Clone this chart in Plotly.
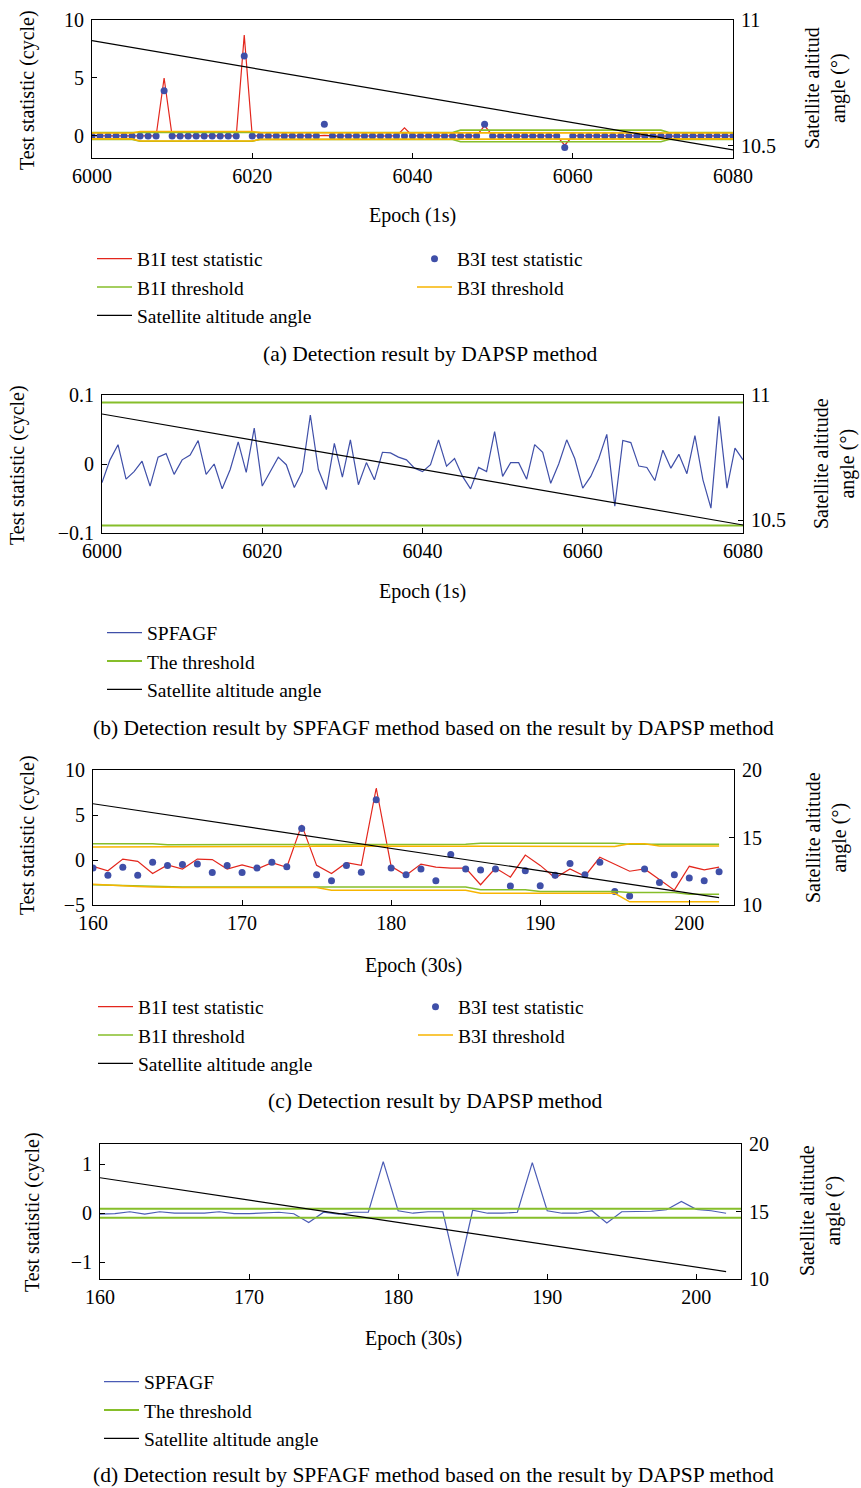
import plotly.graph_objects as go

W, H = 861, 1488
FONT = "Liberation Serif"
FS = 20
LFS = 19.5

RED = "#E3261C"
BLUE = "#3F4FA8"
GREEN = "#86BE2A"
ORANGE = "#F7B500"
BLACK = "#000000"

# ---------------- Panel (a) ----------------
epoch_a = list(range(6000, 6081))
b1i_stat_a = [0.02, 0.0, -0.03, 0.01, 0.0, 0.02, -0.02, 0.01, 0.0, 5.0,
              0.0, 0.02, -0.01, 0.0, 0.01, -0.02, 0.0, 0.01, 0.0, 8.7,
              0.0, 0.02, -0.01, 0.0, 0.01, 0.0, -0.02, 0.01, 0.0, 0.05,
              0.0, -0.01, 0.02, 0.0, 0.0, 0.01, -0.02, 0.0, 0.0, 0.7,
              0.0, 0.01, 0.0, -0.02, 0.0, 0.01, 0.0, 0.02, 0.0, 0.9,
              0.0, -0.01, 0.0, 0.02, 0.0, 0.0, -0.01, 0.0, 0.0, -0.8,
              0.0, 0.01, 0.0, -0.02, 0.0, 0.0, 0.01, 0.0, -0.01, 0.0,
              0.02, 0.0, 0.0, -0.01, 0.0, 0.01, 0.0, 0.0, -0.02, 0.0, 0.0]
b3i_stat_a = [0.0, 0.0, 0.0, 0.0, 0.0, 0.0, 0.0, 0.0, 0.0, 3.9,
              0.0, 0.0, 0.0, 0.0, 0.0, 0.0, 0.0, 0.0, 0.0, 6.9,
              0.0, 0.0, 0.0, 0.0, 0.0, 0.0, 0.0, 0.0, 0.0, 1.0,
              0.0, 0.0, 0.0, 0.0, 0.0, 0.0, 0.0, 0.0, 0.0, 0.0,
              0.0, 0.0, 0.0, 0.0, 0.0, 0.0, 0.0, 0.0, 0.0, 1.0,
              0.0, 0.0, 0.0, 0.0, 0.0, 0.0, 0.0, 0.0, 0.0, -1.0,
              0.0, 0.0, 0.0, 0.0, 0.0, 0.0, 0.0, 0.0, 0.0, 0.0,
              0.0, 0.0, 0.0, 0.0, 0.0, 0.0, 0.0, 0.0, 0.0, 0.0, 0.0]
b1i_thr_up_a = [0.3] * 6 + [0.35] * 15 + [0.3] * 25 + [0.5] * 26 + [0.3] * 9
b1i_thr_lo_a = [-0.3] * 6 + [-0.45] * 15 + [-0.3] * 25 + [-0.5] * 26 + [-0.3] * 9
b3i_thr_up_a = [0.25] * 6 + [0.38] * 15 + [0.29] * 25 + [0.3] * 26 + [0.25] * 9
b3i_thr_lo_a = [-0.25] * 6 + [-0.43] * 15 + [-0.29] * 25 + [-0.3] * 26 + [-0.25] * 9
alt_epoch_a = [6000, 6080]
alt_a = [10.918, 10.484]

# ---------------- Panel (b) ----------------
epoch_b = list(range(6000, 6081))
spfagf_b = [-0.027, 0.006, 0.028, -0.022, -0.011, 0.004, -0.032, 0.010, 0.015, -0.015,
            0.006, 0.013, 0.034, -0.015, 0.0, -0.036, -0.008, 0.032, -0.012, 0.052,
            -0.032, -0.012, 0.010, -0.001, -0.034, -0.011, 0.071, -0.008, -0.037, 0.030,
            -0.019, 0.035, -0.030, 0.002, -0.023, 0.017, 0.016, 0.010, 0.006, -0.006,
            -0.011, -0.001, 0.035, -0.003, 0.008, -0.018, -0.036, -0.005, -0.011, 0.047,
            -0.018, 0.002, 0.002, -0.022, 0.028, 0.017, -0.028, 0.0, 0.035, 0.008,
            -0.035, -0.018, 0.008, 0.043, -0.061, 0.034, 0.031, -0.003, -0.005, -0.024,
            0.020, -0.006, 0.014, -0.014, 0.041, -0.023, -0.064, 0.069, -0.035, 0.023, 0.006]
thr_epoch_b = [6000, 6080]
thr_up_b = [0.089, 0.089]
thr_lo_b = [-0.089, -0.089]
alt_epoch_b = [6000, 6080]
alt_b = [10.924, 10.48]

# ---------------- Panel (c) ----------------
epoch_c = list(range(160, 203))
b1i_stat_c = [-0.7, -1.2, 0.1, -0.15, -1.5, -0.55, -1.0, 0.1, 0.05, -1.0,
              -0.55, -1.0, -0.3, -0.8, 3.9, -0.6, -1.5, -0.3, -0.6, 8.0,
              -0.7, -1.7, -0.45, -0.8, -0.9, -0.9, -2.75, -0.9, -1.9, 0.55,
              -0.6, -2.0, -1.0, -1.8, 0.3, -0.45, -1.25, -1.0, -2.15, -3.35,
              -0.7, -1.1, -0.8]
b3i_stat_c = [-0.9, -1.7, -0.8, -1.7, -0.25, -0.6, -0.5, -0.45, -1.4, -0.6,
              -1.4, -0.9, -0.25, -0.75, 3.5, -1.65, -2.3, -0.6, -1.35, 6.7,
              -0.9, -1.65, -1.0, -2.3, 0.6, -1.0, -1.1, -1.0, -2.9, -1.2,
              -2.85, -1.7, -0.4, -1.65, -0.25, -3.5, -4.0, -1.0, -2.5, -1.65,
              -2.0, -2.3, -1.3]
b1i_thr_up_c = [1.8] * 5 + [1.7] * 10 + [1.75] * 11 + [1.85] * 10 + [1.75] * 7
b1i_thr_lo_c = [-2.75, -2.8, -2.85, -2.9, -2.95] + [-3.0] * 21 + [-3.3] * 4 + [-3.5] * 6 + [-3.6] * 4 + [-3.8] * 3
b3i_thr_up_c = [1.45] * 5 + [1.5] * 10 + [1.55] * 11 + [1.5] * 10 + [1.8] * 2 + [1.55] * 5
b3i_thr_lo_c = [-2.7, -2.8, -2.85, -2.95, -3.0] + [-3.05] * 11 + [-3.35] * 10 + [-3.7] * 10 + [-4.65] * 7
alt_epoch_c = [160, 202]
alt_c = [17.5, 10.55]

# ---------------- Panel (d) ----------------
epoch_d = list(range(160, 203))
spfagf_d = [-0.02, -0.01, 0.03, -0.02, 0.03, 0.0, 0.0, 0.0, 0.03, -0.01,
            -0.01, 0.0, 0.02, -0.01, -0.19, 0.02, -0.02, 0.02, 0.02, 1.05,
            0.05, 0.0, 0.03, 0.03, -1.28, 0.06, 0.0, 0.0, 0.02, 1.03,
            0.05, 0.0, 0.0, 0.05, -0.2, 0.03, 0.03, 0.04, 0.07, 0.24,
            0.08, 0.05, 0.0]
thr_epoch_d = [160, 203]
thr_up_d = [0.09, 0.09]
thr_lo_d = [-0.09, -0.09]
alt_epoch_d = [160, 202]
alt_d = [17.5, 10.55]


def band(xs, up, lo):
    return list(xs) + [None] + list(xs), list(up) + [None] + list(lo)


def fx(px):
    return px / W


def fy(py):
    return 1 - py / H


fig = go.Figure()

# (a)
fig.add_trace(go.Scatter(x=epoch_a, y=b1i_stat_a, mode="lines", name="B1I test statistic",
                         line=dict(color=RED, width=1.2), xaxis="x", yaxis="y", legend="legend"))
fig.add_trace(go.Scatter(x=epoch_a, y=b3i_stat_a, mode="markers", name="B3I test statistic",
                         marker=dict(color=BLUE, size=7), xaxis="x", yaxis="y", legend="legend2"))
bx, by = band(epoch_a, b1i_thr_up_a, b1i_thr_lo_a)
fig.add_trace(go.Scatter(x=bx, y=by, mode="lines", name="B1I threshold",
                         line=dict(color=GREEN, width=1.6), xaxis="x", yaxis="y", legend="legend"))
bx, by = band(epoch_a, b3i_thr_up_a, b3i_thr_lo_a)
fig.add_trace(go.Scatter(x=bx, y=by, mode="lines", name="B3I threshold",
                         line=dict(color=ORANGE, width=1.6), xaxis="x", yaxis="y", legend="legend2"))
fig.add_trace(go.Scatter(x=alt_epoch_a, y=alt_a, mode="lines", name="Satellite altitude angle",
                         line=dict(color=BLACK, width=1.2), xaxis="x", yaxis="y2", legend="legend"))

# (b)
fig.add_trace(go.Scatter(x=epoch_b, y=spfagf_b, mode="lines", name="SPFAGF",
                         line=dict(color=BLUE, width=1.2), xaxis="x2", yaxis="y3", legend="legend3"))
bx, by = band(thr_epoch_b, thr_up_b, thr_lo_b)
fig.add_trace(go.Scatter(x=bx, y=by, mode="lines", name="The threshold",
                         line=dict(color=GREEN, width=2), xaxis="x2", yaxis="y3", legend="legend3"))
fig.add_trace(go.Scatter(x=alt_epoch_b, y=alt_b, mode="lines", name="Satellite altitude angle",
                         line=dict(color=BLACK, width=1.2), xaxis="x2", yaxis="y4", legend="legend3"))

# (c)
fig.add_trace(go.Scatter(x=epoch_c, y=b1i_stat_c, mode="lines", name="B1I test statistic",
                         line=dict(color=RED, width=1.2), xaxis="x3", yaxis="y5", legend="legend4"))
fig.add_trace(go.Scatter(x=epoch_c, y=b3i_stat_c, mode="markers", name="B3I test statistic",
                         marker=dict(color=BLUE, size=7), xaxis="x3", yaxis="y5", legend="legend5"))
bx, by = band(epoch_c, b1i_thr_up_c, b1i_thr_lo_c)
fig.add_trace(go.Scatter(x=bx, y=by, mode="lines", name="B1I threshold",
                         line=dict(color=GREEN, width=1.5), xaxis="x3", yaxis="y5", legend="legend4"))
bx, by = band(epoch_c, b3i_thr_up_c, b3i_thr_lo_c)
fig.add_trace(go.Scatter(x=bx, y=by, mode="lines", name="B3I threshold",
                         line=dict(color=ORANGE, width=1.5), xaxis="x3", yaxis="y5", legend="legend5"))
fig.add_trace(go.Scatter(x=alt_epoch_c, y=alt_c, mode="lines", name="Satellite altitude angle",
                         line=dict(color=BLACK, width=1.2), xaxis="x3", yaxis="y6", legend="legend4"))

# (d)
fig.add_trace(go.Scatter(x=epoch_d, y=spfagf_d, mode="lines", name="SPFAGF",
                         line=dict(color="#4A5BB5", width=1.2), xaxis="x4", yaxis="y7", legend="legend6"))
bx, by = band(thr_epoch_d, thr_up_d, thr_lo_d)
fig.add_trace(go.Scatter(x=bx, y=by, mode="lines", name="The threshold",
                         line=dict(color=GREEN, width=2), xaxis="x4", yaxis="y7", legend="legend6"))
fig.add_trace(go.Scatter(x=alt_epoch_d, y=alt_d, mode="lines", name="Satellite altitude angle",
                         line=dict(color=BLACK, width=1.2), xaxis="x4", yaxis="y8", legend="legend6"))

tickfont = dict(family=FONT, size=FS, color="black")
common = dict(showline=True, linecolor="black", linewidth=1, ticks="inside", ticklen=5,
              tickcolor="black", tickwidth=1, showgrid=False, zeroline=False, tickfont=tickfont,
              automargin=False)


def xax(x0, x1, y0, y1, anchor, rng, tv):
    return dict(domain=[fx(x0), fx(x1)], anchor=anchor, range=rng, tickvals=tv,
                mirror=True, ticklabelstandoff=0, **common)


def yl(y0, y1, anchor, rng, tv, tt=None):
    d = dict(domain=[fy(y1), fy(y0)], anchor=anchor, range=rng, tickvals=tv,
             ticklabelstandoff=3, **common)
    if tt:
        d["ticktext"] = tt
    return d


def yr(overl, anchor, rng, tv):
    return dict(overlaying=overl, anchor=anchor, side="right", range=rng, tickvals=tv,
                ticklabelstandoff=3, **common)


PA = (92, 733, 20, 158)
PB = (102, 743, 395, 533)
PC = (93, 734, 770, 905)
PD = (100, 741, 1144, 1279)

layout = dict(
    width=W, height=H, margin=dict(l=0, r=0, t=0, b=0, autoexpand=False),
    paper_bgcolor="white", plot_bgcolor="white",
    font=dict(family=FONT, size=FS, color="black"),
    xaxis=xax(*PA, "y", [6000, 6080], [6000, 6020, 6040, 6060, 6080]),
    yaxis=yl(PA[2], PA[3], "x", [-1.9, 10], [0, 5, 10]),
    yaxis2=yr("y", "x", [10.452, 11], [10.5, 11]),
    xaxis2=xax(*PB, "y3", [6000, 6080], [6000, 6020, 6040, 6060, 6080]),
    yaxis3=yl(PB[2], PB[3], "x2", [-0.1, 0.1], [-0.1, 0, 0.1], ["\u22120.1", "0", "0.1"]),
    yaxis4=yr("y3", "x2", [10.448, 11], [10.5, 11]),
    xaxis3=xax(*PC, "y5", [160, 203], [160, 170, 180, 190, 200]),
    yaxis5=yl(PC[2], PC[3], "x3", [-5, 10], [-5, 0, 5, 10]),
    yaxis6=yr("y5", "x3", [10, 20], [10, 15, 20]),
    xaxis4=xax(*PD, "y7", [160, 203], [160, 170, 180, 190, 200]),
    yaxis7=yl(PD[2], PD[3], "x4", [-1.34, 1.41], [-1, 0, 1]),
    yaxis8=yr("y7", "x4", [10, 20], [10, 15, 20]),
)

legfont = dict(family=FONT, size=LFS, color="black")


def leg(px, py):
    return dict(x=fx(px), y=fy(py), xanchor="left", yanchor="top", bgcolor="rgba(0,0,0,0)",
                font=legfont, itemwidth=35, orientation="v")


layout["legend"] = leg(92, 239.5)
layout["legend2"] = leg(412, 239.5)
layout["legend3"] = leg(102, 613.5)
layout["legend4"] = leg(93, 987.5)
layout["legend5"] = leg(413, 987.5)
layout["legend6"] = leg(99, 1362.5)

fig.update_layout(**layout)

ann = []


def text(px, py, s, angle=0, size=FS):
    ann.append(dict(x=fx(px), y=fy(py), xref="paper", yref="paper", text=s, showarrow=False,
                    textangle=angle, font=dict(family=FONT, size=size, color="black"),
                    xanchor="center", yanchor="middle", align="center"))


CS = 21.5
# x-axis titles
text(412, 216, "Epoch (1s)")
text(422, 591, "Epoch (1s)")
text(413, 965, "Epoch (30s)")
text(413, 1338, "Epoch (30s)")
# left y titles
text(27, 90, "Test statistic (cycle)", -90)
text(17, 465, "Test statistic (cycle)", -90)
text(27, 835, "Test statistic (cycle)", -90)
text(32, 1212, "Test statistic (cycle)", -90)
# right y titles
text(826, 88, "Satellite altitud<br>angle (\u00b0)", -90)
text(835, 464, "Satellite altitude<br>angle (\u00b0)", -90)
text(826, 838, "Satellite altitude<br>angle (\u00b0)", -90)
text(820, 1211, "Satellite altitude<br>angle (\u00b0)", -90)
# captions
text(430, 354, "(a) Detection result by DAPSP method", size=CS)
text(433, 728, "(b) Detection result by SPFAGF method based on the result by DAPSP method", size=CS)
text(435, 1101, "(c) Detection result by DAPSP method", size=CS)
text(433, 1475, "(d) Detection result by SPFAGF method based on the result by DAPSP method", size=CS)

fig.update_layout(annotations=ann)
fig.write_html("out.html", config={"displayModeBar": False},
               post_script="document.body.style.margin='0px';")
